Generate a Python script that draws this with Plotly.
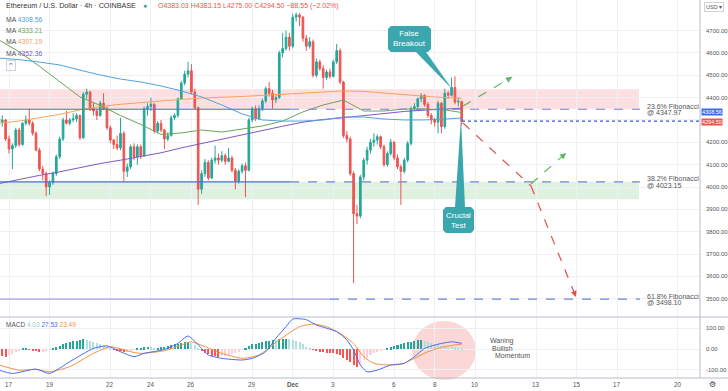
import pandas as pd
import plotly.graph_objects as go

# ---------------- data ----------------
candle_start = "2021-11-16 12:00"
opens = [4310, 4290, 4300, 4215, 4170, 4185, 4255, 4190, 4285, 4300,
         4285, 4240, 4165, 4080, 4060, 4000, 4020, 4060, 4135, 4215,
         4300, 4285, 4300, 4305, 4320, 4220, 4415, 4425, 4350, 4340,
         4320, 4375, 4350, 4265, 4210, 4190, 4175, 4240, 4070, 4090,
         4180, 4135, 4180, 4140, 4350, 4360, 4370, 4250, 4285, 4255,
         4215, 4230, 4310, 4320, 4395, 4465, 4505, 4520, 4425, 4355,
         3990, 4060, 4110, 4040, 4120, 4130, 4120, 4140, 4115, 4130,
         4075, 4025, 4070, 4095, 4075, 4300, 4350, 4305, 4350, 4385,
         4440, 4420, 4390, 4400, 4600, 4620, 4670, 4630, 4760, 4770,
         4760, 4665, 4630, 4650, 4500, 4560, 4530, 4490, 4515, 4495,
         4560, 4610, 4470, 4230, 4215, 4060, 3880, 3870, 4045, 4120,
         4165, 4200, 4210, 4225, 4180, 4100, 4150, 4200, 4130, 4090,
         4070, 4120, 4195, 4350, 4360, 4395, 4410, 4370, 4320, 4300,
         4290, 4375, 4270, 4420, 4410, 4445, 4380, 4383.03]
highs = [4330, 4320, 4305, 4230, 4195, 4265, 4265, 4290, 4320, 4350,
         4295, 4250, 4175, 4095, 4070, 4030, 4070, 4145, 4225, 4310,
         4340, 4310, 4330, 4330, 4325, 4425, 4440, 4430, 4380, 4350,
         4385, 4420, 4360, 4275, 4215, 4230, 4310, 4250, 4105, 4190,
         4195, 4190, 4190, 4360, 4375, 4400, 4375, 4295, 4300, 4260,
         4245, 4320, 4330, 4400, 4475, 4520, 4560, 4550, 4440, 4360,
         4075, 4125, 4120, 4130, 4185, 4150, 4160, 4150, 4175, 4140,
         4085, 4080, 4105, 4110, 4310, 4360, 4365, 4365, 4395, 4450,
         4470, 4435, 4415, 4610, 4690, 4700, 4690, 4775, 4780, 4778,
         4765, 4680, 4670, 4660, 4575, 4570, 4545, 4525, 4530, 4570,
         4640, 4620, 4475, 4250, 4225, 4070, 3920, 4055, 4130, 4180,
         4215, 4240, 4235, 4230, 4190, 4160, 4215, 4205, 4145, 4100,
         4130, 4205, 4360, 4375, 4400, 4420, 4415, 4380, 4330, 4310,
         4385, 4380, 4440, 4430, 4490, 4495, 4400, 4383.15]
lows = [4280, 4270, 4205, 4150, 4080, 4175, 4180, 4185, 4275, 4275,
        4230, 4160, 4070, 4030, 3960, 3965, 4010, 4050, 4125, 4205,
        4280, 4275, 4290, 4290, 4210, 4215, 4395, 4340, 4320, 4300,
        4315, 4345, 4255, 4195, 4170, 4165, 4165, 4025, 4045, 4080,
        4120, 4100, 4125, 4135, 4320, 4340, 4240, 4240, 4245, 4170,
        4205, 4225, 4300, 4310, 4390, 4455, 4490, 4415, 4345, 3920,
        3970, 4045, 4030, 4035, 4105, 4100, 4110, 4100, 4110, 4065,
        3990, 4015, 4060, 3955, 4070, 4290, 4295, 4300, 4340, 4375,
        4405, 4350, 4375, 4395, 4580, 4610, 4610, 4620, 4740, 4720,
        4650, 4610, 4620, 4490, 4490, 4520, 4440, 4480, 4485, 4490,
        4550, 4460, 4220, 4200, 4050, 3570, 3835, 3860, 4030, 4100,
        4150, 4180, 4190, 4170, 4090, 4090, 4140, 4120, 4080, 3920,
        4060, 4110, 4185, 4340, 4345, 4380, 4360, 4310, 4280, 4270,
        4240, 4240, 4260, 4395, 4405, 4370, 4360, 4275.00]
closes = [4290, 4300, 4215, 4170, 4185, 4255, 4190, 4285, 4300, 4285,
          4240, 4165, 4080, 4060, 4000, 4020, 4060, 4135, 4215, 4300,
          4285, 4300, 4305, 4320, 4220, 4415, 4425, 4350, 4340, 4320,
          4375, 4350, 4265, 4210, 4190, 4175, 4240, 4070, 4090, 4180,
          4135, 4180, 4140, 4350, 4360, 4370, 4250, 4285, 4255, 4215,
          4230, 4310, 4320, 4395, 4465, 4505, 4520, 4425, 4355, 3990,
          4060, 4110, 4040, 4120, 4130, 4120, 4140, 4115, 4130, 4075,
          4025, 4070, 4095, 4075, 4300, 4350, 4305, 4350, 4385, 4440,
          4420, 4390, 4400, 4600, 4620, 4670, 4630, 4760, 4770, 4760,
          4665, 4630, 4650, 4500, 4560, 4530, 4490, 4515, 4495, 4560,
          4610, 4470, 4230, 4215, 4060, 3880, 3870, 4045, 4120, 4165,
          4200, 4210, 4225, 4180, 4100, 4150, 4200, 4130, 4090, 4070,
          4120, 4195, 4350, 4360, 4395, 4410, 4370, 4320, 4300, 4290,
          4375, 4270, 4420, 4410, 4445, 4380, 4383.05, 4294.50]

# moving averages, read once per day (12:00) plus the last bar
ma_knot_start = "2021-11-16 12:00"
ma_last_time = "2021-12-09 08:00"
ma_blue = [4577, 4570, 4559, 4546, 4523, 4501, 4483, 4470, 4452, 4430, 4403, 4367,
           4327, 4300, 4295, 4295, 4300, 4313, 4313, 4304, 4300, 4300, 4304, 4308.56]
ma_green = [4658, 4605, 4540, 4470, 4403, 4365, 4320, 4280, 4235, 4242, 4255, 4246,
            4260, 4273, 4295, 4336, 4367, 4389, 4340, 4340, 4349, 4349, 4345, 4333.21]
ma_orange = [4285, 4295, 4310, 4325, 4345, 4360, 4370, 4378, 4385, 4392, 4398, 4400,
             4405, 4410, 4415, 4422, 4428, 4430, 4428, 4420, 4412, 4406, 4400, 4397.19]
ma_purple = [4015, 4035, 4052, 4068, 4088, 4105, 4120, 4137, 4153, 4175, 4195, 4215,
             4235, 4255, 4272, 4290, 4302, 4310, 4320, 4330, 4338, 4344, 4349, 4352.36]

macd_hist = [-30, -36, -37, -30, -22, -12,
             -5, 2, 3,
             -2, -5, -10, -13, -12, -6, -3,
             2, 8, 15, 22, 28, 33, 38, 40, 42, 47, 45, 40,
             34, 28, 22, 15, 10, 5,
             -2, -5, -10, -14, -12, -6, -3,
             2, 5, 8, 10, 8, 6, 7, 9, 11, 14, 18, 22, 26, 30, 33, 35, 28, 18,
             5, -8, -18, -26, -32, -36, -38, -36, -33, -30, -26, -20, -12,
             -4, 3, 15, 22, 26, 30, 33, 37, 40, 43, 42, 47, 48, 50, 48, 45, 40,
             32, 22, 12, 5, -3, -8, -12, -16, -18, -20, -20, -22, -30, -42, -55, -65, -78, -85, -70,
             -55, -42, -30, -20, -12, -6, -2,
             3, 8, 14, 20, 26, 30, 33, 36, 40, 42, 45,
             40, 35, 30, 25, 20, 17, 14, 12, 10, 8, 6, 4.03]
macd_knot_bar = [0, 4, 11, 15, 21, 28, 32, 36, 40, 43, 49, 53, 56, 60, 62, 66, 72, 75, 79,
                 82, 85, 87, 91, 94, 100, 103, 105, 107, 109, 112, 116, 120, 123, 126,
                 129, 131, 134, 137]
macd_line = [-102, -118, -97, -118, -61, 3, 15, -13, -37, -21, -2, 27, 63, 3, -29, -45,
             -53, -45, -13, 52, 108, 145, 142, 116, 84, 44, -5, -77, -110, -102, -77,
             -69, -37, 3, 19, 27, 35, 27.53]
signal_knot_bar = [0, 6, 11, 15, 21, 28, 33, 39, 42, 49, 54, 57, 61, 66, 72, 77, 83, 89,
                   93, 97, 101, 105, 108, 111, 115, 119, 123, 127, 131, 135, 137]
signal_line = [-77, -102, -98, -110, -85, -21, 11, -13, -21, -8, 19, 35, 11, -21, -45,
               -29, 44, 108, 121, 108, 76, 27, -37, -69, -77, -74, -45, -13, 8, 20, 23.49]

fib_levels = [4347.97, 4023.15, 3498.10]
fib_names = ["23.6% Fibonacci", "38.2% Fibonacci", "61.8% Fibonacci"]
resist_zone = [4347.97, 4437]
support_zone = [3945, 4023.15]
price_ticks = [3500, 3600, 3700, 3800, 3900, 4000, 4100, 4200, 4300, 4400, 4500, 4600, 4700]
macd_ticks = [-100, 0, 100]
date_ticks = ["2021-11-17", "2021-11-19", "2021-11-22", "2021-11-24", "2021-11-26",
              "2021-11-29", "2021-12-01", "2021-12-03", "2021-12-06", "2021-12-08",
              "2021-12-10", "2021-12-13", "2021-12-15", "2021-12-17", "2021-12-20"]
date_tick_text = ["17", "19", "22", "24", "26", "29", "<b>Dec</b>", "3", "6", "8",
                  "10", "13", "15", "17", "20"]
last_price = 4294.50
last_ma_blue = 4308.56

# ---------------- geometry helpers (layout only) ----------------
W, H = 700.0, 378.0
T0 = pd.Timestamp("2021-11-17 00:00")
PXD = 20.27


def tx(px):
    return T0 + pd.Timedelta(days=(px - 9) / PXD)


def xp(px):
    return px / W


def yp(py):
    return 1 - py / H


def path(pts):
    s = "M %.5f,%.5f" % (xp(pts[0][0]), yp(pts[0][1]))
    for p in pts[1:]:
        s += " L %.5f,%.5f" % (xp(p[0]), yp(p[1]))
    return s + " Z"


times = pd.date_range(candle_start, periods=len(closes), freq="4h")
ma_times = list(pd.date_range(ma_knot_start, periods=len(ma_blue) - 1, freq="1D")) + [pd.Timestamp(ma_last_time)]

UP, DN = "#26a69a", "#ef5350"
FONT = "Liberation Sans"

fig = go.Figure()
fig.add_trace(go.Candlestick(
    x=times, open=opens, high=highs, low=lows, close=closes,
    increasing=dict(line=dict(color=UP, width=1), fillcolor=UP),
    decreasing=dict(line=dict(color=DN, width=1), fillcolor=DN),
    whiskerwidth=0, showlegend=False, hoverinfo="skip", xaxis="x", yaxis="y"))

for vals, col in [(ma_purple, "#7e57c2"), (ma_orange, "#f7a35c"),
                  (ma_green, "#6ba35a"), (ma_blue, "#4fa3e0")]:
    fig.add_trace(go.Scatter(x=ma_times, y=vals, mode="lines",
                             line=dict(color=col, width=1), showlegend=False,
                             hoverinfo="skip", xaxis="x", yaxis="y"))

# MACD histogram colors
hist_cols = []
for i, v in enumerate(macd_hist):
    prev = macd_hist[i - 1] if i > 0 else v
    if v >= 0:
        hist_cols.append("#26a69a" if v >= prev else "#b2dfdb")
    else:
        hist_cols.append("#ff5252" if v <= prev else "#ffcdd2")
fig.add_trace(go.Bar(x=times, y=macd_hist, marker=dict(color=hist_cols, line=dict(width=0)),
                     width=4 * 3600 * 1000 * 0.6, showlegend=False, hoverinfo="skip",
                     xaxis="x2", yaxis="y2"))
fig.add_trace(go.Scatter(x=[times[i] for i in signal_knot_bar], y=signal_line, mode="lines",
                         line=dict(color="#f5923e", width=1, shape="spline", smoothing=0.6),
                         showlegend=False, hoverinfo="skip", xaxis="x2", yaxis="y2"))
fig.add_trace(go.Scatter(x=[times[i] for i in macd_knot_bar], y=macd_line, mode="lines",
                         line=dict(color="#4a6cf0", width=1, shape="spline", smoothing=0.6),
                         showlegend=False, hoverinfo="skip", xaxis="x2", yaxis="y2"))

shapes = []
# zones
shapes.append(dict(type="rect", xref="paper", yref="y", x0=0, x1=xp(639),
                   y0=resist_zone[0], y1=resist_zone[1], fillcolor="rgba(242,54,69,0.16)",
                   line=dict(width=0), layer="below"))
shapes.append(dict(type="rect", xref="paper", yref="y", x0=0, x1=xp(639),
                   y0=support_zone[0], y1=support_zone[1], fillcolor="rgba(76,175,80,0.18)",
                   line=dict(width=0), layer="below"))
# fibonacci lines
solid_end = [290, 290, 330]
solid_col = ["#4a6ee0", "#4a6ee0", "#a89ee6"]
for lvl, se, sc in zip(fib_levels, solid_end, solid_col):
    shapes.append(dict(type="line", xref="paper", yref="y", x0=0, x1=xp(se), y0=lvl, y1=lvl,
                       line=dict(color=sc, width=1.2)))
    shapes.append(dict(type="line", xref="paper", yref="y", x0=xp(se), x1=xp(640), y0=lvl, y1=lvl,
                       line=dict(color="#6d84e0", width=1.2, dash="dash")))
# last price dotted
shapes.append(dict(type="line", xref="paper", yref="y", x0=xp(462), x1=1, y0=last_price, y1=last_price,
                   line=dict(color="#3558d8", width=1.2, dash="dot")))
# pane separator & axis borders
shapes.append(dict(type="line", xref="paper", yref="paper", x0=0, x1=1.04, y0=yp(317), y1=yp(317),
                   line=dict(color="#b8bcc6", width=1)))
shapes.append(dict(type="line", xref="paper", yref="paper", x0=1, x1=1, y0=0, y1=1,
                   line=dict(color="#b8bcc6", width=1)))
shapes.append(dict(type="line", xref="paper", yref="paper", x0=0, x1=1.04, y0=0, y1=0,
                   line=dict(color="#b8bcc6", width=1)))
# MACD ellipse
shapes.append(dict(type="circle", xref="paper", yref="paper", x0=xp(412), x1=xp(476),
                   y0=yp(380), y1=yp(321), fillcolor="rgba(244,140,140,0.35)",
                   line=dict(width=0), layer="below"))
# dashed projection lines
GREEN_D, RED_D = "#5cb85c", "#e05050"
proj = [((463, 106), (512, 77), GREEN_D),
        ((463, 123), (531, 186), RED_D),
        ((531, 184), (566, 153), GREEN_D),
        ((531, 186), (576, 297), RED_D)]
annotations = []
for (a, b, c) in proj:
    shapes.append(dict(type="line", xref="paper", yref="paper", x0=xp(a[0]), y0=yp(a[1]),
                       x1=xp(b[0]), y1=yp(b[1]), line=dict(color=c, width=1.2, dash="dash")))
for (a, b, c) in [proj[0], proj[2], proj[3]]:
    dx, dy = b[0] - a[0], b[1] - a[1]
    n = (dx * dx + dy * dy) ** 0.5
    annotations.append(dict(xref="paper", yref="paper", x=xp(b[0]), y=yp(b[1]), text="",
                            showarrow=True, arrowhead=2, arrowsize=1, arrowwidth=1.2,
                            arrowcolor=c, ax=-dx / n * 7, ay=-dy / n * 7))

# callouts
TEAL = "#3aa7ae"
shapes.append(dict(type="path", xref="paper", yref="paper", fillcolor=TEAL, line=dict(width=0),
                   path=path([(391, 26), (428, 26), (431, 29), (431, 49), (428, 52), (426, 52),
                              (452, 89), (416, 52), (391, 52), (388, 49), (388, 29)])))
shapes.append(dict(type="path", xref="paper", yref="paper", fillcolor=TEAL, line=dict(width=0),
                   path=path([(446, 207), (455, 207), (461, 118), (465, 207), (471, 207), (474, 210),
                              (474, 230), (471, 233), (446, 233), (443, 230), (443, 210)])))
annotations.append(dict(xref="paper", yref="paper", x=xp(409.5), y=yp(39), text="False<br>Breakout",
                        showarrow=False, xanchor="center", yanchor="middle",
                        font=dict(family=FONT, size=8, color="white")))
annotations.append(dict(xref="paper", yref="paper", x=xp(458.5), y=yp(220), text="Crucial<br>Test",
                        showarrow=False, xanchor="center", yanchor="middle",
                        font=dict(family=FONT, size=8, color="white")))


def txt(px, py, text, size=7.5, color="#444", anchor="left", bg=None, border=None, pad=1):
    d = dict(xref="paper", yref="paper", x=xp(px), y=yp(py), text=text, showarrow=False,
             xanchor=anchor, yanchor="middle", font=dict(family=FONT, size=size, color=color))
    if bg:
        d.update(bgcolor=bg, borderpad=pad)
    if border:
        d.update(bordercolor=border, borderwidth=1, borderpad=pad)
    annotations.append(d)


# header
txt(4, 6, "Ethereum / U.S. Dollar · 4h · COINBASE", size=7.2, color="#333")
txt(141, 6, "●", size=7, color=UP)
txt(156, 6, "O4383.03 H4383.15 L4275.00 C4294.50 −88.55 (−2.02%)", size=7, color=DN)
ma_vals_text = [(ma_blue[-1], "#4fa3e0"), (ma_green[-1], "#6ba35a"),
                (ma_orange[-1], "#f7a35c"), (ma_purple[-1], "#7e57c2")]
for k, (v, c) in enumerate(ma_vals_text):
    txt(4, 19.3 + k * 11.3, "MA <span style='color:%s'>%.2f</span>" % (c, v), size=6.8, color="#555")
txt(6, 65, "⌃", size=7, color="#555", border="#d0d3db")
txt(704, 7, "USD ▾", size=5.5, color="#555", border="#d0d3db")
# fib labels
for lvl, name in zip(fib_levels, fib_names):
    yy = 187 - (lvl - 4000) * 0.2235
    txt(645, yy - 3, name, size=7, color="#555")
    txt(645, yy + 3.5, "@ %.2f" % lvl, size=7, color="#555")
# price axis labels (right scale); the 4300 label sits under the live price boxes
for v in price_ticks:
    if abs(v - last_price) < 20:
        continue
    annotations.append(dict(xref="paper", yref="y", x=xp(704), y=v, text="%.2f" % v, showarrow=False,
                            xanchor="left", yanchor="middle", font=dict(family=FONT, size=6, color="#555")))
for v in macd_ticks:
    annotations.append(dict(xref="paper", yref="y2", x=xp(704), y=v, text="%.2f" % v, showarrow=False,
                            xanchor="left", yanchor="middle", font=dict(family=FONT, size=6, color="#555")))
# time axis labels
for d, t in zip(date_ticks, date_tick_text):
    annotations.append(dict(xref="x2", yref="paper", x=d, y=yp(384.5), text=t, showarrow=False,
                            xanchor="center", yanchor="middle", font=dict(family=FONT, size=6.3, color="#555")))
# price boxes
txt(701, 111.8, "%.2f" % last_ma_blue, size=5.5, color="white", bg="#3d6ee6", pad=0)
txt(701, 121.6, "%.2f" % last_price, size=5.5, color="white", bg=DN, pad=0)
# MACD legend
txt(4, 324, "MACD <span style='color:#8fd0c8'>4.03</span> <span style='color:#4a6cf0'>27.53</span> "
            "<span style='color:#f5923e'>23.49</span>", size=6.5, color="#555")
txt(488, 341, "Waning", size=7, color="#555")
txt(490, 348, "Bullish", size=7, color="#555")
txt(493, 355, "Momentum", size=7, color="#555")
txt(713, 384.5, "⚙", size=8, color="#444", anchor="center")

GRID = "#eef0f5"
xr = [tx(0), tx(700)]
fig.update_layout(
    width=728, height=391, margin=dict(l=0, r=28, t=0, b=13),
    paper_bgcolor="white", plot_bgcolor="white",
    shapes=shapes, annotations=annotations, bargap=0,
    xaxis=dict(domain=[0, 1], anchor="y", range=xr, rangeslider=dict(visible=False),
               showticklabels=False, tickvals=date_ticks, showgrid=True, gridcolor=GRID,
               zeroline=False, showline=False),
    xaxis2=dict(domain=[0, 1], anchor="y2", range=xr, matches="x", tickvals=date_ticks,
                showticklabels=False, showgrid=True, gridcolor=GRID, ticks="",
                zeroline=False, showline=False),
    yaxis=dict(domain=[1 - 316 / H, 1], range=[3422.8, 4836.7], side="right", tickvals=price_ticks,
               showticklabels=False, showgrid=True, gridcolor=GRID, zeroline=False, ticks=""),
    yaxis2=dict(domain=[0, 60 / H], range=[-140, 150], side="right", tickvals=macd_ticks,
                showticklabels=False, showgrid=True, gridcolor=GRID, zeroline=False, ticks=""),
    showlegend=False,
)
fig.write_html("out.html", config={"displayModeBar": False},
               post_script="document.body.style.margin='0';")
